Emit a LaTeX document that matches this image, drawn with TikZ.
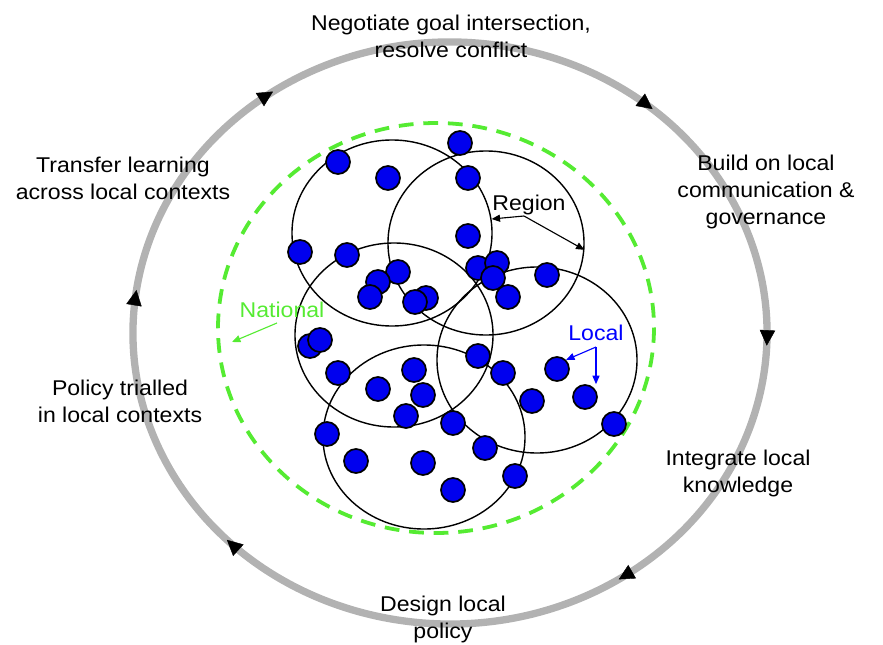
\documentclass[tikz,border=0pt]{standalone}
\usepackage{fontspec}
\setmainfont{Liberation Sans}[FakeStretch=1.08]
\usetikzlibrary{arrows.meta,decorations.markings,shapes.geometric}
\definecolor{ringgray}{RGB}{178,178,178}
\definecolor{natgreen}{RGB}{85,235,50}
\definecolor{dotblue}{RGB}{0,0,238}
\tikzset{
  cycletext/.style={align=center,font=\fontsize{15.2}{19.2}\selectfont},
  labeltext/.style={font=\fontsize{15.2}{19.2}\selectfont,inner sep=0pt},
  ring/.style={line width=5.2pt,color=ringgray},
  cycletip/.style={black,line width=0.3pt},
  region/.style={draw,ellipse,line width=1pt,inner sep=0pt},
  dot/.style={circle,draw,fill=dotblue,line width=1.2pt,minimum size=0.6cm,inner sep=0pt},
  national/.style={draw=natgreen,line width=2.7pt,dash pattern=on 10.5pt off 7pt},
}
\begin{document}
\begin{tikzpicture}[x=0.025cm,y=-0.025cm]
  \useasboundingbox (0,0) rectangle (883,645);
  % policy cycle
  \draw[ring,postaction={decorate},decoration={markings,
      mark=at position 0.087 with {\arrow[cycletip]{Triangle[length=11pt,width=11pt]}},
      mark=at position 0.238 with {\arrow[cycletip]{Triangle[length=11pt,width=11pt]}},
      mark=at position 0.458 with {\arrow[cycletip]{Triangle[length=11pt,width=11pt]}},
      mark=at position 0.603 with {\arrow[cycletip]{Triangle[length=11pt,width=11pt]}},
      mark=at position 0.733 with {\arrow[cycletip]{Triangle[length=11pt,width=11pt]}},
      mark=at position 0.944 with {\arrow[cycletip]{Triangle[length=11pt,width=11pt]}}}]
    (450,333) ++(-30:317 and 291) arc[start angle=-30,end angle=330,x radius=317,y radius=291];
  \node[cycletext] (negotiate) at (451,36) {Negotiate goal intersection,\\resolve conflict};
  \node[cycletext] (build) at (766,192) {Build on local\\communication \&\\governance};
  \node[cycletext] (integrate) at (738,473) {Integrate local\\knowledge};
  \node[cycletext] (design) at (443,619) {Design local\\policy};
  \node[cycletext] (trial) at (120,401) {Policy trialled\\in local contexts};
  \node[cycletext] (transfer) at (123,178) {Transfer learning\\across local contexts};
  % national boundary
  \draw[national] (436,328) ellipse[x radius=218,y radius=205];
  % regions
  \node[region,minimum width=5cm,minimum height=4.65cm] (r1) at (392,233) {};
  \node[region,minimum width=4.9cm,minimum height=4.6cm] (r2) at (486,243) {};
  \node[region,minimum width=4.95cm,minimum height=4.6cm] (r3) at (394,335) {};
  \node[region,minimum width=5cm,minimum height=4.65cm] (r4) at (537,360) {};
  \node[region,minimum width=5.05cm,minimum height=4.6cm] (r5) at (424,437) {};
  % locals
  \draw
    (460,143) node[dot] (d1){}
    (338,162) node[dot] (d2){}
    (388,178) node[dot] (d3){}
    (468,178) node[dot] (d4){}
    (468,236) node[dot] (d5){}
    (300,252) node[dot] (d6){}
    (347,255) node[dot] (d7){}
    (398,272) node[dot] (d8){}
    (378,282) node[dot] (d9){}
    (370,297) node[dot] (d10){}
    (426,298) node[dot] (d12){}
    (415,302) node[dot] (d11){}
    (478,268) node[dot] (d13){}
    (497,263) node[dot] (d14){}
    (493,278) node[dot] (d15){}
    (508,297) node[dot] (d16){}
    (547,275) node[dot] (d17){}
    (310,346) node[dot] (d18){}
    (320,340) node[dot] (d19){}
    (478,356) node[dot] (d20){}
    (338,373) node[dot] (d21){}
    (414,370) node[dot] (d22){}
    (378,389) node[dot] (d23){}
    (423,395) node[dot] (d24){}
    (503,373) node[dot] (d25){}
    (557,369) node[dot] (d26){}
    (532,401) node[dot] (d27){}
    (585,397) node[dot] (d28){}
    (406,416) node[dot] (d29){}
    (453,423) node[dot] (d30){}
    (614,424) node[dot] (d31){}
    (327,434) node[dot] (d32){}
    (485,448) node[dot] (d33){}
    (356,461) node[dot] (d34){}
    (423,463) node[dot] (d35){}
    (515,476) node[dot] (d36){}
    (453,490) node[dot] (d37){};
  % labels
  \node[labeltext,text=natgreen] (natlabel) at (282,310) {National};
  \node[labeltext] (reglabel) at (529,205) {Region};
  \node[labeltext,text=blue] (loclabel) at (596,333) {Local};
  \coordinate (natA) at (277,323);
  \coordinate (natTip) at (232,342);
  \coordinate (regA) at (524,216);
  \coordinate (locA) at (596,347);
  \begin{scope}[-{Triangle[length=6pt,width=5pt]},line width=0.8pt]
    \draw[natgreen] (natA) to (natTip);
    \draw (regA) to (r1.8);
    \draw (regA) to (r2.-4);
    \draw[blue] (locA) to (d26.north east);
    \draw[blue] (locA) to (locA |- d28.north);
  \end{scope}
\end{tikzpicture}
\end{document}
